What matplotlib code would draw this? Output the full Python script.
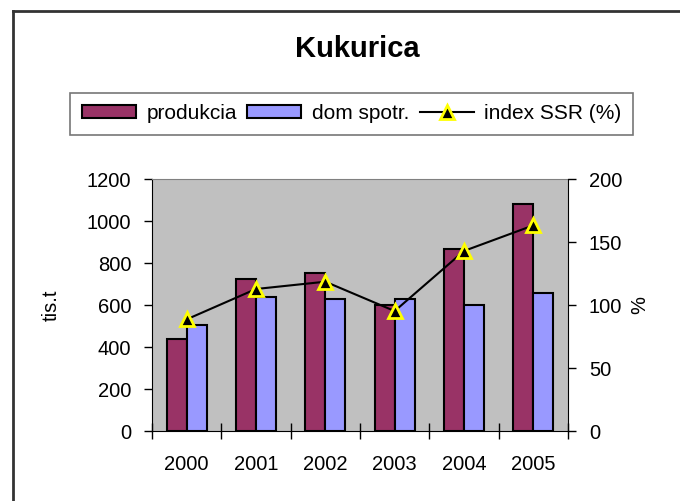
import matplotlib.pyplot as plt
import numpy as np
from matplotlib.lines import Line2D

plt.rcParams['font.family'] = ['Liberation Sans', 'DejaVu Sans']

# data
years = ['2000', '2001', '2002', '2003', '2004', '2005']
produkcia = [438, 725, 752, 600, 868, 1080]
dom_spotr = [506, 640, 630, 630, 601, 659]
index_ssr = [88.6, 112.7, 118.5, 95.2, 142.9, 163.2]

fig = plt.figure(figsize=(6.8, 5.01), dpi=100)
ax = fig.add_axes([0.2235, 0.1397, 0.6118, 0.503])
ax.set_facecolor('#C0C0C0')

x = np.arange(len(years))
w = 0.2885
ax.bar(x - w / 2, produkcia, w, color='#993366', edgecolor='black', linewidth=1.5,
       label='produkcia', zorder=2)
ax.bar(x + w / 2, dom_spotr, w, color='#9999FF', edgecolor='black', linewidth=1.5,
       label='dom spotr.', zorder=2)

ax.set_xlim(-0.5, len(years) - 0.5)
ax.set_ylim(0, 1200)
ax.set_yticks(range(0, 1201, 200))
ax.set_xticks(x)
ax.set_xticklabels(years)
ax.set_xticks(np.arange(-0.5, len(years)), minor=True)
ax.tick_params(axis='x', which='major', length=0, pad=17, labelsize=14.5)
ax.tick_params(axis='x', which='minor', direction='inout', length=12, width=1)
ax.tick_params(axis='y', direction='out', length=6, width=1, pad=9, labelsize=14.5)
ax.set_ylabel('tis.t', fontsize=14.5)
ax.yaxis.set_label_coords(-0.22, 0.5)

for s in ['left', 'bottom']:
    ax.spines[s].set_color('black')
ax.spines['top'].set_color('#808080')
ax.spines['right'].set_visible(False)

ax2 = ax.twinx()
ax2.plot(x, index_ssr, color='black', linewidth=1.5, marker='^', markersize=10,
         markerfacecolor='black', markeredgecolor='#FFFF00', markeredgewidth=2,
         label='index SSR (%)', zorder=3)
ax2.set_ylim(0, 200)
ax2.set_yticks(range(0, 201, 50))
ax2.tick_params(axis='y', direction='out', length=6, width=1, pad=9, labelsize=14.5)
ax2.set_ylabel('%', fontsize=14.5, rotation=90)
ax2.yaxis.set_label_coords(1.15, 0.5)
ax2.spines['right'].set_color('black')
ax2.spines['top'].set_visible(False)
ax2.spines['left'].set_visible(False)
ax2.spines['bottom'].set_visible(False)

fig.text(0.526, 0.903, 'Kukurica', ha='center', va='center', fontsize=21,
         fontweight='bold')

h1, l1 = ax.get_legend_handles_labels()
h2, l2 = ax2.get_legend_handles_labels()
leg = fig.legend(h1 + h2, l1 + l2, loc='center', bbox_to_anchor=(0.517, 0.773),
                 ncol=3, fontsize=15, frameon=True, fancybox=False,
                 handlelength=2.6, handleheight=0.6, handletextpad=0.5,
                 columnspacing=0.5, borderpad=0.55, borderaxespad=0)
leg.get_frame().set_edgecolor('#555555')
leg.get_frame().set_linewidth(1.2)

# outer chart border (only left and top are inside the picture)
fig.add_artist(Line2D([13 / 680, 13 / 680], [0, 1 - 11 / 501], color='#333333', lw=2))
fig.add_artist(Line2D([13 / 680, 1], [1 - 11 / 501, 1 - 11 / 501], color='#333333', lw=2))

fig.savefig('out.png', dpi=100)
